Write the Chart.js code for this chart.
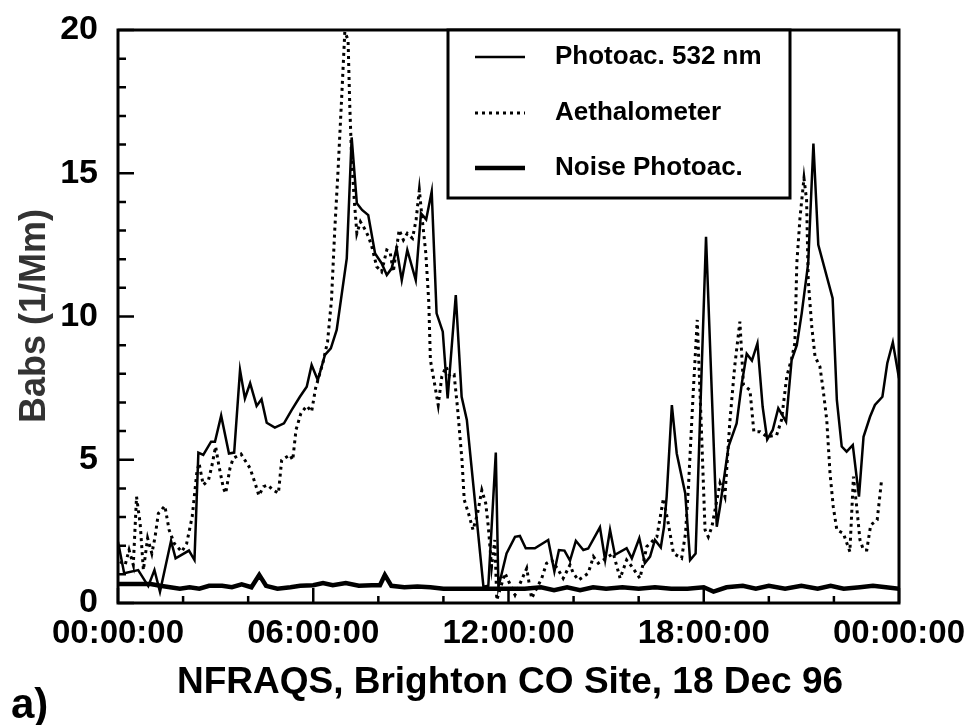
<!DOCTYPE html>
<html>
<head>
<meta charset="utf-8">
<script src="https://cdn.jsdelivr.net/npm/chart.js@4"></script>
<style>
  html, body { margin: 0; padding: 0; background: #fff; }
  canvas { display: block; }
</style>
</head>
<body>
<canvas id="chart1" width="977" height="725"></canvas>
<script>
// Datos (horas desde 00:00, Babs en 1/Mm)
const seriesNames = ["Photoac. 532 nm", "Aethalometer", "Noise Photoac."];
const xTickLabels = ["00:00:00", "06:00:00", "12:00:00", "18:00:00", "00:00:00"];
const xTitle = "NFRAQS, Brighton CO Site, 18 Dec 96";
const yTitle = "Babs (1/Mm)";
const panelLabel = "a)";

const photoHours = [0.00, 0.19, 0.62, 0.93, 1.12, 1.29, 1.63, 1.77, 2.18, 2.35, 2.47, 2.62, 2.86, 2.98, 3.17, 3.41, 3.57, 3.75, 3.90, 4.06,
  4.26, 4.41, 4.57, 4.82, 5.10, 5.34, 5.59, 5.80, 5.95, 6.14, 6.36, 6.54, 6.72, 7.03, 7.18, 7.34, 7.50, 7.69, 7.90, 8.10,
  8.26, 8.41, 8.56, 8.72, 8.89, 9.15, 9.31, 9.47, 9.64, 9.79, 9.98, 10.13, 10.38, 10.56, 10.72, 11.23, 11.38, 11.61, 11.69, 11.94,
  12.20, 12.35, 12.53, 12.81, 13.22, 13.41, 13.55, 13.72, 13.89, 14.07, 14.30, 14.45, 14.81, 14.97, 15.12, 15.27, 15.63, 15.79, 16.02, 16.19,
  16.35, 16.50, 16.68, 16.78, 16.86, 17.02, 17.17, 17.43, 17.58, 17.75, 18.07, 18.40, 18.50, 18.76, 19.01, 19.17, 19.32, 19.48, 19.65, 19.81,
  19.95, 20.12, 20.29, 20.53, 20.70, 20.86, 21.01, 21.21, 21.37, 21.52, 21.96, 22.09, 22.24, 22.39, 22.58, 22.77, 22.91, 23.11, 23.26, 23.49,
  23.64, 23.81, 24.00];
const photoValues = [2.14, 1.04, 1.15, 0.59, 1.15, 0.39, 2.17, 1.56, 1.83, 1.50, 5.25, 5.17, 5.63, 5.63, 6.54, 5.22, 5.25, 8.13, 7.14, 7.67,
  6.88, 7.11, 6.29, 6.12, 6.27, 6.74, 7.20, 7.55, 8.31, 7.78, 8.66, 8.89, 9.53, 12.03, 16.25, 13.95, 13.72, 13.54, 12.20, 11.86,
  11.45, 11.68, 12.38, 11.27, 12.32, 11.27, 13.60, 13.39, 14.36, 10.11, 9.47, 7.14, 10.75, 7.20, 6.39, 0.57, 0.60, 5.25, 0.55, 1.73,
  2.31, 2.34, 1.91, 1.91, 2.20, 1.10, 1.85, 1.83, 1.48, 2.17, 1.85, 1.90, 2.64, 1.50, 2.55, 1.68, 1.91, 1.56, 2.26, 1.39,
  1.62, 2.20, 1.94, 2.66, 3.71, 6.91, 5.22, 3.83, 1.50, 1.73, 12.78, 2.66, 3.36, 5.46, 6.27, 7.67, 8.70, 8.46, 9.06, 6.85,
  5.71, 6.04, 6.80, 6.33, 8.48, 9.00, 10.11, 11.86, 16.04, 12.50, 10.64, 7.09, 5.46, 5.28, 5.51, 3.71, 5.80, 6.50, 6.91, 7.20,
  8.37, 9.10, 7.84];

const aethHours = [0.06, 0.22, 0.34, 0.47, 0.57, 0.68, 0.78, 0.91, 1.04, 1.14, 1.24, 1.44, 1.57, 1.73, 1.96, 2.11, 2.28, 2.42, 2.49, 2.62,
  2.78, 2.88, 3.00, 3.10, 3.24, 3.31, 3.44, 3.54, 3.78, 4.06, 4.23, 4.33, 4.47, 4.60, 4.77, 4.93, 5.03, 5.28, 5.37, 5.47,
  5.62, 5.80, 5.95, 6.07, 6.30, 6.44, 6.56, 6.66, 6.76, 6.87, 6.97, 7.07, 7.12, 7.18, 7.26, 7.34, 7.45, 7.60, 7.70, 7.80,
  7.95, 8.10, 8.26, 8.36, 8.46, 8.64, 8.77, 8.89, 9.05, 9.16, 9.26, 9.33, 9.46, 9.55, 9.60, 9.69, 9.84, 9.95, 10.08, 10.20,
  10.33, 10.43, 10.57, 10.64, 10.77, 10.91, 11.05, 11.18, 11.30, 11.38, 11.48, 11.58, 11.64, 11.89, 12.20, 12.56, 12.71, 13.02, 13.17, 13.33,
  13.53, 13.68, 13.89, 13.99, 14.15, 14.45, 14.61, 14.76, 15.22, 15.43, 15.63, 15.79, 16.04, 16.25, 16.56, 16.76, 16.91, 17.07, 17.32, 17.44,
  17.53, 17.68, 17.80, 17.94, 18.04, 18.14, 18.25, 18.50, 18.65, 18.80, 18.95, 19.11, 19.22, 19.42, 19.54, 19.73, 19.95, 20.24, 20.39, 20.55,
  20.70, 20.80, 20.86, 20.96, 21.08, 21.16, 21.21, 21.32, 21.42, 21.57, 21.67, 21.78, 21.88, 21.98, 22.09, 22.29, 22.49, 22.60, 22.70, 22.80,
  22.91, 23.01, 23.13, 23.33, 23.47];
const aethValues = [1.44, 1.33, 1.85, 1.33, 3.71, 2.78, 1.15, 2.26, 1.73, 2.31, 3.13, 3.39, 2.55, 2.08, 1.79, 2.08, 3.01, 4.53, 4.88, 4.12,
  4.29, 4.76, 5.46, 4.80, 4.00, 3.83, 4.70, 5.05, 5.20, 4.70, 4.12, 3.75, 4.06, 4.12, 3.94, 3.83, 4.99, 5.17, 4.99, 6.04,
  6.62, 6.88, 6.68, 7.49, 8.40, 9.12, 10.58, 13.00, 15.05, 17.56, 19.94, 19.65, 17.44, 15.50, 14.07, 12.90, 13.31, 13.02, 12.78, 12.44,
  11.74, 11.56, 12.32, 12.26, 11.56, 13.02, 12.67, 12.90, 12.73, 13.37, 14.42, 13.60, 12.20, 10.50, 8.48, 7.90, 6.91, 7.90, 8.25, 7.90,
  7.96, 6.85, 4.99, 3.60, 3.13, 2.55, 3.13, 3.94, 3.48, 2.66, 1.27, 2.20, 0.10, 1.04, 0.28, 1.21, 0.16, 0.86, 1.39, 1.50,
  1.15, 0.86, 1.33, 1.04, 0.80, 1.04, 1.62, 1.39, 1.73, 0.86, 1.50, 1.27, 0.86, 1.97, 2.31, 3.65, 2.78, 1.73, 1.56, 2.43,
  4.06, 7.43, 9.88, 5.69, 2.55, 2.31, 2.66, 4.18, 3.71, 6.30, 8.25, 9.82, 7.61, 7.43, 5.98, 5.98, 5.80, 5.86, 6.39, 7.90,
  8.54, 9.06, 11.86, 13.48, 14.82, 14.07, 11.27, 9.64, 8.60, 8.25, 7.43, 6.39, 4.53, 3.36, 2.55, 2.43, 1.79, 4.41, 3.36, 2.20,
  1.85, 1.85, 2.72, 2.90, 4.35];

const noiseHours = [0.0, 1.0, 1.3, 1.6, 1.9, 2.2, 2.5, 2.8, 3.2, 3.5, 3.8, 4.1, 4.34, 4.55, 4.9, 5.3, 5.6, 6.0, 6.3, 6.6,
  7.0, 7.4, 7.8, 8.05, 8.2, 8.4, 8.8, 9.2, 9.6, 10.0, 10.5, 11.0, 11.5, 12.0, 12.5, 13.0, 13.4, 13.8, 14.2, 14.6,
  15.0, 15.5, 16.0, 16.5, 17.0, 17.5, 18.0, 18.3, 18.7, 19.2, 19.6, 20.0, 20.5, 21.0, 21.5, 21.9, 22.3, 22.8, 23.2, 23.6, 24.0];
const noiseValues = [0.66, 0.66, 0.60, 0.55, 0.50, 0.55, 0.50, 0.60, 0.60, 0.55, 0.65, 0.55, 0.98, 0.60, 0.50, 0.55, 0.60, 0.62, 0.70, 0.62,
  0.70, 0.60, 0.62, 0.62, 0.98, 0.60, 0.55, 0.58, 0.55, 0.50, 0.50, 0.50, 0.50, 0.50, 0.50, 0.55, 0.45, 0.55, 0.45, 0.55,
  0.50, 0.55, 0.50, 0.55, 0.50, 0.50, 0.55, 0.40, 0.55, 0.60, 0.50, 0.60, 0.50, 0.60, 0.50, 0.60, 0.50, 0.55, 0.60, 0.55, 0.50];

const FONT = "'Liberation Sans', Arial, Helvetica, sans-serif";

function toPoints(hours, values) {
  return hours.map((h, i) => ({ x: h, y: values[i] }));
}

const chartData = {
  datasets: [
    {
      label: seriesNames[0],
      data: toPoints(photoHours, photoValues),
      borderColor: "#000",
      borderWidth: 2.5,
      pointRadius: 0,
      tension: 0
    },
    {
      label: seriesNames[1],
      data: toPoints(aethHours, aethValues),
      borderColor: "#000",
      borderWidth: 3,
      borderDash: [3, 4],
      pointRadius: 0,
      tension: 0
    },
    {
      label: seriesNames[2],
      data: toPoints(noiseHours, noiseValues),
      borderColor: "#000",
      borderWidth: 4.5,
      pointRadius: 0,
      tension: 0
    }
  ]
};

// Marco, ticks hacia dentro, titulos y leyenda
const decorPlugin = {
  id: "decor",
  afterDraw(chart) {
    const ctx = chart.ctx;
    const a = chart.chartArea;
    const xs = chart.scales.x;
    const ys = chart.scales.y;
    ctx.save();
    ctx.strokeStyle = "#000";
    ctx.lineWidth = 2.5;
    ctx.beginPath();
    for (let v = 0; v <= 20; v++) {
      const y = ys.getPixelForValue(v);
      const len = v % 5 === 0 ? 16 : 8;
      ctx.moveTo(a.left, y);
      ctx.lineTo(a.left + len, y);
    }
    for (let h = 0; h <= 24; h += 2) {
      const x = xs.getPixelForValue(h);
      const len = h % 6 === 0 ? 15 : 7;
      ctx.moveTo(x, a.bottom);
      ctx.lineTo(x, a.bottom - len);
    }
    ctx.stroke();
    ctx.lineWidth = 3;
    ctx.strokeRect(a.left, a.top, a.right - a.left, a.bottom - a.top);

    // leyenda
    const lx = 448, ly = a.top, lw = 342, lh = 198 - a.top;
    ctx.fillStyle = "#fff";
    ctx.fillRect(lx, ly, lw, lh);
    ctx.strokeRect(lx, ly, lw, lh);
    const rows = [57, 113, 168];
    chart.data.datasets.forEach((ds, i) => {
      ctx.beginPath();
      ctx.lineWidth = ds.borderWidth;
      ctx.setLineDash(ds.borderDash || []);
      ctx.moveTo(475, rows[i]);
      ctx.lineTo(525, rows[i]);
      ctx.stroke();
      ctx.setLineDash([]);
      ctx.fillStyle = "#000";
      ctx.font = "bold 26px " + FONT;
      ctx.textBaseline = "middle";
      ctx.textAlign = "left";
      ctx.fillText(ds.label, 555, rows[i]);
    });

    // titulos
    ctx.fillStyle = "#000";
    ctx.font = "bold 37px " + FONT;
    ctx.textAlign = "center";
    ctx.textBaseline = "middle";
    ctx.fillText(xTitle, 510, 683);
    ctx.textAlign = "left";
    ctx.font = "bold 42px " + FONT;
    ctx.fillText(panelLabel, 11, 706);

    ctx.translate(35, 316);
    ctx.rotate(-Math.PI / 2);
    ctx.textAlign = "center";
    ctx.font = "bold 36px " + FONT;
    ctx.fillStyle = "#333";
    ctx.fillText(yTitle, 0, 0);
    ctx.restore();
  }
};

const chart1Canvas = document.getElementById("chart1");

new Chart(chart1Canvas, {
  type: "line",
  data: chartData,
  plugins: [decorPlugin],
  options: {
    responsive: false,
    animation: false,
    devicePixelRatio: 1,
    layout: { padding: { top: 30, right: 78, left: 0, bottom: 0 } },
    plugins: {
      legend: { display: false },
      tooltip: { enabled: false }
    },
    scales: {
      x: {
        type: "linear",
        min: 0,
        max: 24,
        grid: { display: false, drawTicks: false },
        border: { display: false },
        afterFit(scale) {
          scale.height = 122;
          scale.paddingLeft = 0;
          scale.paddingRight = 0;
        },
        ticks: {
          stepSize: 6,
          padding: 11,
          maxRotation: 0,
          color: "#000",
          font: { family: FONT, size: 33, weight: "bold" },
          callback: (value) => xTickLabels[value / 6]
        }
      },
      y: {
        min: 0,
        max: 20,
        grid: { display: false, drawTicks: false },
        border: { display: false },
        afterFit(scale) {
          scale.width = 118;
          scale.paddingTop = 0;
          scale.paddingBottom = 0;
        },
        ticks: {
          stepSize: 5,
          padding: 20,
          color: "#000",
          font: { family: FONT, size: 34, weight: "bold" }
        }
      }
    }
  }
});
</script>
</body>
</html>
